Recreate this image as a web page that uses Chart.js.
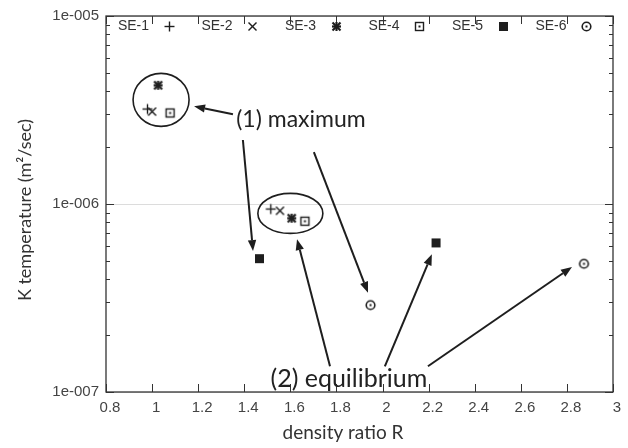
<!DOCTYPE html>
<html>
<head>
<meta charset="utf-8">
<script src="https://cdn.jsdelivr.net/npm/chart.js@4.4.1/dist/chart.umd.min.js"></script>
<style>
  html, body { margin: 0; padding: 0; background: #fff; }
  #wrap { width: 628px; height: 448px; }
</style>
</head>
<body>
<div id="wrap"><canvas id="kChart" width="628" height="448"></canvas></div>
<script>
const seriesNames = ['SE-1', 'SE-2', 'SE-3', 'SE-4', 'SE-5', 'SE-6']
const markerKinds = ['plus', 'cross', 'star', 'boxDot', 'box', 'circleDot']

// (1) maximum
const maxRatio = [0.98, 1.00, 1.026, 1.078, 1.466, 1.948]
const maxK = [3.2e-6, 3.1e-6, 4.28e-6, 3.05e-6, 5.12e-7, 2.9e-7]

// (2) equilibrium
const eqRatio = [1.515, 1.555, 1.606, 1.663, 2.232, 2.874]
const eqK = [9.4e-7, 9.2e-7, 8.4e-7, 8.1e-7, 6.21e-7, 4.81e-7]

const xTickValues = [0.8, 1, 1.2, 1.4, 1.6, 1.8, 2, 2.2, 2.4, 2.6, 2.8, 3]
const yTickValues = [1e-7, 1e-6, 1e-5]

// annotations, placed in data space
const ellipses = [
  { r: 1.039, k: 3.58e-6, rx: 28, ry: 26.5 },
  { r: 1.600, k: 8.91e-7, rx: 32.5, ry: 20 }
]
const arrows = [
  [1.351, 3.00e-6, 1.182, 3.31e-6],
  [1.394, 2.19e-6, 1.438, 5.62e-7],
  [1.702, 1.89e-6, 1.937, 3.37e-7],
  [1.772, 1.37e-7, 1.629, 6.50e-7],
  [2.010, 1.37e-7, 2.214, 5.41e-7],
  [2.197, 1.37e-7, 2.822, 4.62e-7]
]
const notes = [
  { text: '(1) maximum', r: 1.646, k: 2.82e-6, size: 23 },
  { text: '(2) equilibrium', r: 1.854, k: 1.17e-7, size: 25 }
]

const INK = '#1e1e1e'

function makeMarker( kind ) {
  const c = document.createElement( 'canvas' )
  c.width = 13
  c.height = 13
  const g = c.getContext( '2d' )
  g.strokeStyle = INK
  g.fillStyle = INK
  g.lineWidth = 1.4
  const m = 6.5
  const line = ( x1, y1, x2, y2 ) => {
    g.beginPath(); g.moveTo( x1, y1 ); g.lineTo( x2, y2 ); g.stroke()
  }
  if ( kind === 'plus' ) {
    line( m - 5, m, m + 5, m ); line( m, m - 5, m, m + 5 )
  } else if ( kind === 'cross' ) {
    line( m - 4, m - 4, m + 4, m + 4 ); line( m - 4, m + 4, m + 4, m - 4 )
  } else if ( kind === 'star' ) {
    g.lineWidth = 2.2
    line( m - 4.5, m, m + 4.5, m ); line( m, m - 4.5, m, m + 4.5 )
    line( m - 4, m - 4, m + 4, m + 4 ); line( m - 4, m + 4, m + 4, m - 4 )
  } else if ( kind === 'boxDot' ) {
    g.strokeRect( m - 4, m - 4, 8, 8 )
    g.fillRect( m - 1, m - 1, 2, 2 )
  } else if ( kind === 'box' ) {
    g.fillRect( m - 4.5, m - 4.5, 9, 9 )
  } else if ( kind === 'circleDot' ) {
    g.lineWidth = 1.6
    g.beginPath(); g.arc( m, m, 4.3, 0, Math.PI * 2 ); g.stroke()
    g.fillRect( m - 1, m - 1, 2, 2 )
  }
  return c
}

const markers = markerKinds.map( makeMarker )

const datasets = seriesNames.map( ( name, i ) => ( {
  label: name,
  data: [
    { x: maxRatio[ i ], y: maxK[ i ] },
    { x: eqRatio[ i ], y: eqK[ i ] }
  ],
  pointStyle: markers[ i ],
  pointRadius: 6,
  pointHoverRadius: 6,
  showLine: false
} ) )

function drawArrow( ctx, x1, y1, x2, y2 ) {
  const a = Math.atan2( y2 - y1, x2 - x1 )
  const len = 11, half = 4.2
  const bx = x2 - len * Math.cos( a ), by = y2 - len * Math.sin( a )
  ctx.beginPath()
  ctx.moveTo( x1, y1 )
  ctx.lineTo( bx, by )
  ctx.stroke()
  ctx.beginPath()
  ctx.moveTo( x2, y2 )
  ctx.lineTo( bx + half * Math.sin( a ), by - half * Math.cos( a ) )
  ctx.lineTo( bx - half * Math.sin( a ), by + half * Math.cos( a ) )
  ctx.closePath()
  ctx.fill()
}

const decorations = {
  id: 'decorations',
  beforeDatasetsDraw( chart ) {
    const { ctx, chartArea: a, scales: { x, y } } = chart
    ctx.save()

    // frame
    ctx.strokeStyle = '#333'
    ctx.lineWidth = 1.3
    ctx.strokeRect( a.left, a.top, a.right - a.left, a.bottom - a.top )

    // inward ticks, mirrored on all four sides
    ctx.lineWidth = 1
    ctx.beginPath()
    xTickValues.forEach( v => {
      const px = Math.round( x.getPixelForValue( v ) ) + 0.5
      ctx.moveTo( px, a.bottom ); ctx.lineTo( px, a.bottom - 8 )
      ctx.moveTo( px, a.top ); ctx.lineTo( px, a.top + 8 )
    } )
    for ( let e = -7; e <= -5; e++ ) {
      for ( let k = 1; k <= 9; k++ ) {
        const v = k * Math.pow( 10, e )
        if ( v > 1e-5 * 1.0001 ) break
        const py = Math.round( y.getPixelForValue( v ) ) + 0.5
        const tl = k === 1 ? 8 : 4
        ctx.moveTo( a.left, py ); ctx.lineTo( a.left + tl, py )
        ctx.moveTo( a.right, py ); ctx.lineTo( a.right - tl, py )
      }
    }
    ctx.stroke()

    // ellipses around the clusters
    ctx.strokeStyle = INK
    ctx.lineWidth = 1.6
    ellipses.forEach( el => {
      ctx.beginPath()
      ctx.ellipse( x.getPixelForValue( el.r ), y.getPixelForValue( el.k ), el.rx, el.ry, 0, 0, Math.PI * 2 )
      ctx.stroke()
    } )

    // arrows
    ctx.lineWidth = 2
    ctx.fillStyle = INK
    arrows.forEach( ar => {
      drawArrow( ctx,
        x.getPixelForValue( ar[ 0 ] ), y.getPixelForValue( ar[ 1 ] ),
        x.getPixelForValue( ar[ 2 ] ), y.getPixelForValue( ar[ 3 ] ) )
    } )

    // notes
    ctx.textAlign = 'center'
    ctx.textBaseline = 'middle'
    ctx.fillStyle = '#222'
    notes.forEach( n => {
      ctx.font = n.size + 'px Lato'
      ctx.fillText( n.text, x.getPixelForValue( n.r ), y.getPixelForValue( n.k ) )
    } )

    // key, gnuplot style: name then sample
    ctx.font = '14px "Liberation Sans"'
    ctx.textAlign = 'right'
    ctx.fillStyle = '#333'
    const ky = a.top + 10
    seriesNames.forEach( ( name, i ) => {
      const tx = a.left + 43 + 83.5 * i
      ctx.fillText( name, tx, ky )
      const mk = markers[ i ]
      ctx.drawImage( mk, Math.round( tx + 20 - mk.width / 2 ), Math.round( ky - mk.height / 2 ) )
    } )

    // axis titles
    ctx.fillStyle = '#333'
    ctx.textAlign = 'center'
    ctx.font = '19px Lato'
    ctx.fillText( 'density ratio R', 343, 433 )
    ctx.font = '18px Lato'
    ctx.translate( 25, 210 )
    ctx.rotate( -Math.PI / 2 )
    ctx.fillText( 'K temperature (m\u00b2/sec)', 0, 0 )

    ctx.restore()
  }
}

new Chart( document.getElementById( 'kChart' ), {
  type: 'scatter',
  data: { datasets },
  options: {
    responsive: false,
    animation: false,
    devicePixelRatio: 1,
    layout: { padding: { left: 0, right: 15, top: 13, bottom: 0 } },
    plugins: {
      legend: { display: false },
      tooltip: { enabled: false }
    },
    scales: {
      x: {
        type: 'linear',
        min: 0.8,
        max: 3,
        afterFit: ( s ) => { s.height = 56 },
        afterBuildTicks: ( s ) => { s.ticks = xTickValues.map( v => ( { value: v } ) ) },
        ticks: {
          padding: 7,
          labelOffset: 4,
          color: '#444',
          font: { family: '"Liberation Sans", Arial', size: 15 },
          callback: ( v ) => String( Math.round( v * 10 ) / 10 ),
          maxRotation: 0
        },
        grid: { display: false, drawTicks: false },
        border: { display: false }
      },
      y: {
        type: 'logarithmic',
        min: 1e-7,
        max: 1e-5,
        afterFit: ( s ) => { s.width = 106 },
        afterBuildTicks: ( s ) => { s.ticks = yTickValues.map( v => ( { value: v } ) ) },
        ticks: {
          padding: 7,
          color: '#444',
          font: { family: '"Liberation Sans", Arial', size: 15 },
          callback: ( v ) => '1e-' + String( Math.round( -Math.log10( v ) ) ).padStart( 3, '0' )
        },
        grid: { color: '#dcdcdc', lineWidth: 1, drawTicks: false },
        border: { display: false }
      }
    }
  },
  plugins: [ decorations ]
} )
</script>
</body>
</html>
